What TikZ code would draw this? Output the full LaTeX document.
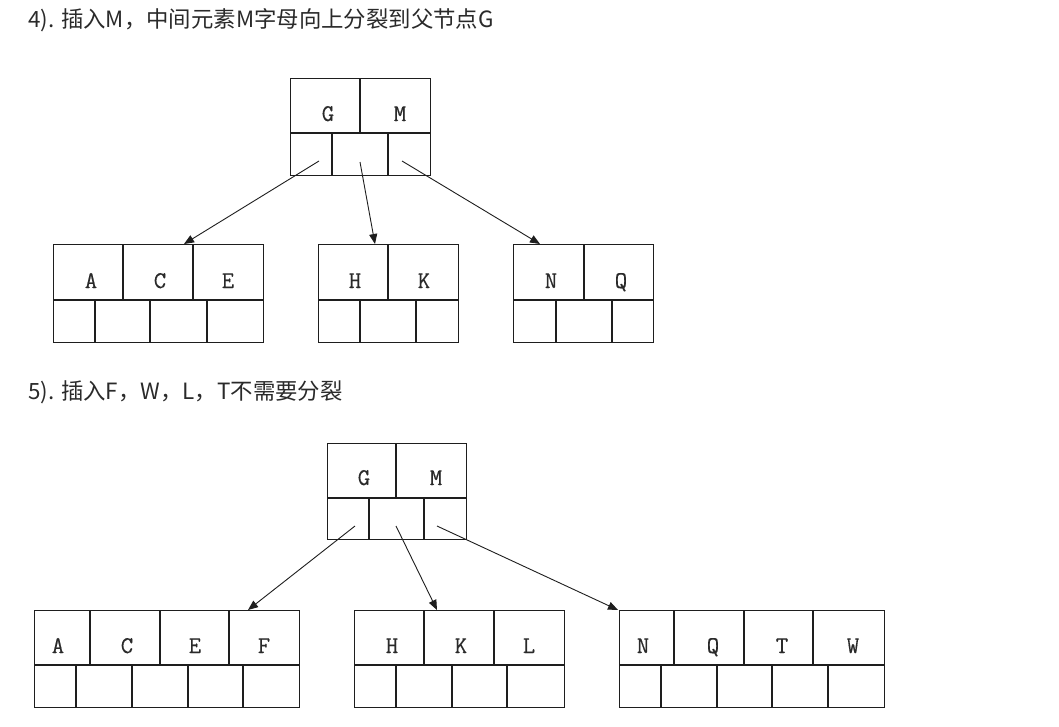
\documentclass[tikz,border=0pt]{standalone}
\usepackage{fontspec}
\newfontfamily\cjk{Noto Sans CJK SC}
\newfontfamily\labfont{Latin Modern Mono}[FakeBold=0.45]
\usetikzlibrary{arrows.meta}
\definecolor{ink}{HTML}{1E1E1E}
\definecolor{txt}{HTML}{2A2A2A}
\begin{document}
\begin{tikzpicture}[x=1pt,y=-1pt,
  box/.style={draw=ink,line width=1.4pt,inner sep=0pt,anchor=north west},
  div/.style={draw=ink,line width=1.4pt},
  lab/.style={anchor=base,font=\labfont\fontsize{24}{24}\selectfont,text=txt,inner sep=0pt},
  arr/.style={draw=ink,line width=0.9pt,-{Triangle[length=10pt,width=8pt]}},
  title/.style={anchor=base west,font=\cjk\fontsize{22.4}{26}\selectfont,text=txt,inner sep=0pt}]
\useasboundingbox (0,0) rectangle (1059,726);
\fill[white] (0,0) rectangle (1059,726);

% titles
\node[title] (t1) at (28,27) {4). 插入M，中间元素M字母向上分裂到父节点G};
\node[title] (t2) at (28,399) {5). 插入F，W，L，T不需要分裂};

% ---------- tree 1 ----------
\node[box,minimum width=140pt,minimum height=97pt] (r1) at (290,78) {};
\draw[div] (290,133) -- (430,133);
\draw[div] (360,78) -- (360,133);
\draw[div] (332,133) -- (332,175);
\draw[div] (388,133) -- (388,175);
\node[lab] (r1g) at (328,121) {G};
\node[lab] (r1m) at (400,121) {M};

\node[box,minimum width=210pt,minimum height=98pt] (ace) at (53,244) {};
\draw[div] (53,300) -- (263,300);
\draw[div] (123,244) -- (123,300);
\draw[div] (193,244) -- (193,300);
\draw[div] (95,300) -- (95,342);
\draw[div] (150,300) -- (150,342);
\draw[div] (207,300) -- (207,342);
\node[lab] (aceA) at (91,288) {A};
\node[lab] (aceC) at (160,288) {C};
\node[lab] (aceE) at (228,288) {E};

\node[box,minimum width=140pt,minimum height=98pt] (hk) at (318,244) {};
\draw[div] (318,300) -- (458,300);
\draw[div] (388,244) -- (388,300);
\draw[div] (360,300) -- (360,342);
\draw[div] (416,300) -- (416,342);
\node[lab] (hkH) at (355,288) {H};
\node[lab] (hkK) at (424,288) {K};

\node[box,minimum width=140pt,minimum height=98pt] (nq) at (513,244) {};
\draw[div] (513,300) -- (653,300);
\draw[div] (584,244) -- (584,300);
\draw[div] (556,300) -- (556,342);
\draw[div] (612,300) -- (612,342);
\node[lab] (nqN) at (551,288) {N};
\node[lab] (nqQ) at (621,288) {Q};

\coordinate (r1a) at (319,161);
\coordinate (r1b) at (360,162);
\coordinate (r1c) at (402,161);
\coordinate (c1a) at (184,244);
\coordinate (c1b) at (375,244);
\coordinate (c1c) at (540,244);
\draw[arr] (r1a) -- (c1a);
\draw[arr] (r1b) -- (c1b);
\draw[arr] (r1c) -- (c1c);

% ---------- tree 2 ----------
\node[box,minimum width=139pt,minimum height=96pt] (r2) at (327,443) {};
\draw[div] (327,498) -- (466,498);
\draw[div] (396,443) -- (396,498);
\draw[div] (369,498) -- (369,539);
\draw[div] (424,498) -- (424,539);
\node[lab] (r2g) at (364,485) {G};
\node[lab] (r2m) at (436,485) {M};

\node[box,minimum width=265pt,minimum height=97pt] (acef) at (34,610) {};
\draw[div] (34,665) -- (299,665);
\draw[div] (90,610) -- (90,665);
\draw[div] (160,610) -- (160,665);
\draw[div] (229,610) -- (229,665);
\draw[div] (76,665) -- (76,707);
\draw[div] (132,665) -- (132,707);
\draw[div] (188,665) -- (188,707);
\draw[div] (243,665) -- (243,707);
\node[lab] (acefA) at (58,653) {A};
\node[lab] (acefC) at (127,653) {C};
\node[lab] (acefE) at (195,653) {E};
\node[lab] (acefF) at (264,653) {F};

\node[box,minimum width=210pt,minimum height=97pt] (hkl) at (354,610) {};
\draw[div] (354,665) -- (564,665);
\draw[div] (424,610) -- (424,665);
\draw[div] (494,610) -- (494,665);
\draw[div] (396,665) -- (396,707);
\draw[div] (452,665) -- (452,707);
\draw[div] (507,665) -- (507,707);
\node[lab] (hklH) at (392,653) {H};
\node[lab] (hklK) at (461,653) {K};
\node[lab] (hklL) at (529,653) {L};

\node[box,minimum width=265pt,minimum height=97pt] (nqtw) at (619,610) {};
\draw[div] (619,665) -- (884,665);
\draw[div] (674,610) -- (674,665);
\draw[div] (744,610) -- (744,665);
\draw[div] (813,610) -- (813,665);
\draw[div] (661,665) -- (661,707);
\draw[div] (717,665) -- (717,707);
\draw[div] (772,665) -- (772,707);
\draw[div] (828,665) -- (828,707);
\node[lab] (nqtwN) at (643,653) {N};
\node[lab] (nqtwQ) at (713,653) {Q};
\node[lab] (nqtwT) at (782,653) {T};
\node[lab] (nqtwW) at (853,653) {W};

\coordinate (r2a) at (355,526);
\coordinate (r2b) at (396,526);
\coordinate (r2c) at (437,526);
\coordinate (d2a) at (248,610);
\coordinate (d2b) at (437,610);
\coordinate (d2c) at (618,610);
\draw[arr] (r2a) -- (d2a);
\draw[arr] (r2b) -- (d2b);
\draw[arr] (r2c) -- (d2c);
\end{tikzpicture}
\end{document}
